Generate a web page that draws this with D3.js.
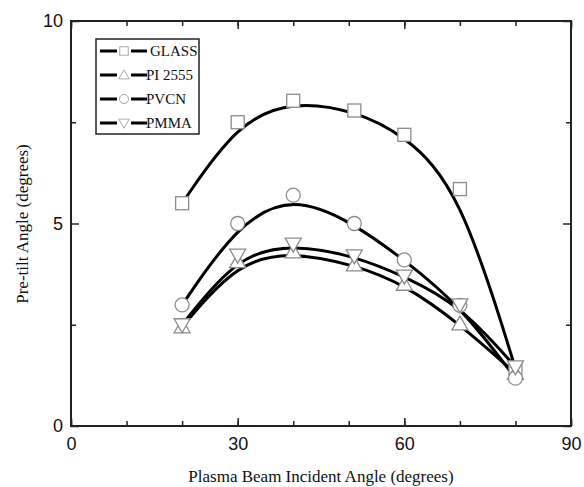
<!DOCTYPE html>
<html>
<head>
<meta charset="utf-8">
<script src="https://cdn.jsdelivr.net/npm/d3@7"></script>
<style>
  body { margin: 0; background: #fff; }
</style>
</head>
<body>
<svg id="chart" width="584" height="487"></svg>
<script>
// incident angles and pre-tilt angles
const angles = [20, 30, 40, 51, 60, 70, 80]
const glass = [5.5, 7.5, 8.03, 7.79, 7.19, 5.85, 1.42]
const pi2555 = [2.45, 4.06, 4.3, 3.98, 3.5, 2.52, 1.3]
const pvcn = [2.99, 5.0, 5.7, 5.0, 4.1, 2.98, 1.18]
const pmma = [2.5, 4.22, 4.49, 4.2, 3.7, 2.99, 1.46]

const xTicks = [0, 30, 60, 90]
const yTicks = [0, 5, 10]

const series = [
    { name: 'GLASS', vals: glass, sym: 'square' },
    { name: 'PI 2555', vals: pi2555, sym: 'up' },
    { name: 'PVCN', vals: pvcn, sym: 'circle' },
    { name: 'PMMA', vals: pmma, sym: 'down' }
]

const svg = d3.select('#chart')
const plotLeft = 71, plotRight = 571, plotTop = 21, plotBottom = 426

const x = d3.scaleLinear().domain([0, 90]).range([plotLeft, plotRight])
const y = d3.scaleLinear().domain([0, 10]).range([plotBottom, plotTop])

const markColor = '#8c8c8c'

function drawMarker(g, sym, cx, cy, s) {
    if (sym === 'square') {
        g.append('rect').attr('x', cx - 6.5 * s).attr('y', cy - 6.5 * s).attr('width', 13 * s).attr('height', 13 * s)
    } else if (sym === 'circle') {
        g.append('circle').attr('cx', cx).attr('cy', cy).attr('r', 7 * s)
    } else if (sym === 'up') {
        g.append('path').attr('d', `M${cx},${cy - 8 * s}L${cx + 8 * s},${cy + 6 * s}L${cx - 8 * s},${cy + 6 * s}Z`)
    } else {
        g.append('path').attr('d', `M${cx},${cy + 8 * s}L${cx + 8 * s},${cy - 6 * s}L${cx - 8 * s},${cy - 6 * s}Z`)
    }
}

// B-spline through the points as control points (Origin style)
const line = d3.line()
    .x((d, i) => x(angles[i]))
    .y(d => y(d))
    .curve(d3.curveBasis)

series.forEach(s => {
    svg.append('path')
        .datum(s.vals)
        .attr('d', line)
        .attr('fill', 'none')
        .attr('stroke', '#000')
        .attr('stroke-width', 3)
})

series.forEach(s => {
    const g = svg.append('g')
    s.vals.forEach((v, i) => drawMarker(g, s.sym, x(angles[i]), y(v), 1))
    g.selectAll('*').attr('fill', 'white').attr('stroke', markColor).attr('stroke-width', 1.3)
})

// axes with inward ticks, mirrored on top/right
const minorX = d3.range(0, 91, 10)
const minorY = [2.5, 7.5]

svg.append('g').attr('transform', `translate(0,${plotBottom})`)
    .call(d3.axisBottom(x).tickValues(minorX).tickSize(-5).tickFormat(''))
svg.append('g').attr('transform', `translate(0,${plotBottom})`)
    .call(d3.axisBottom(x).tickValues(xTicks).tickSize(-8).tickPadding(11).tickFormat(d3.format('d')))
svg.append('g').attr('transform', `translate(0,${plotTop})`)
    .call(d3.axisTop(x).tickValues(minorX).tickSize(-5).tickFormat(''))
svg.append('g').attr('transform', `translate(0,${plotTop})`)
    .call(d3.axisTop(x).tickValues(xTicks).tickSize(-8).tickFormat(''))

svg.append('g').attr('transform', `translate(${plotLeft},0)`)
    .call(d3.axisLeft(y).tickValues(minorY).tickSize(-5).tickFormat(''))
svg.append('g').attr('transform', `translate(${plotLeft},0)`)
    .call(d3.axisLeft(y).tickValues(yTicks).tickSize(-8).tickPadding(8).tickFormat(d3.format('d')))
svg.append('g').attr('transform', `translate(${plotRight},0)`)
    .call(d3.axisRight(y).tickValues(minorY).tickSize(-5).tickFormat(''))
svg.append('g').attr('transform', `translate(${plotRight},0)`)
    .call(d3.axisRight(y).tickValues(yTicks).tickSize(-8).tickFormat(''))

svg.selectAll('.domain').remove()
svg.selectAll('.tick line').attr('stroke', '#222').attr('stroke-width', 1.5)
svg.selectAll('.tick text')
    .attr('fill', '#111')
    .style('font-family', '"Liberation Sans", Arial, sans-serif')
    .style('font-size', '18px')

svg.append('rect')
    .attr('x', plotLeft).attr('y', plotTop)
    .attr('width', plotRight - plotLeft).attr('height', plotBottom - plotTop)
    .attr('fill', 'none').attr('stroke', '#222').attr('stroke-width', 2)

// axis titles
svg.append('text')
    .attr('x', 321).attr('y', 482)
    .attr('text-anchor', 'middle')
    .style('font-family', '"Liberation Serif", "Times New Roman", serif')
    .style('font-size', '17px')
    .attr('fill', '#111')
    .text('Plasma Beam Incident Angle (degrees)')

svg.append('text')
    .attr('transform', 'translate(28,224) rotate(-90)')
    .attr('text-anchor', 'middle')
    .style('font-family', '"Liberation Serif", "Times New Roman", serif')
    .style('font-size', '17px')
    .attr('fill', '#111')
    .text('Pre-tilt Angle (degrees)')

// legend
svg.append('rect')
    .attr('x', 96).attr('y', 39).attr('width', 103).attr('height', 95)
    .attr('fill', 'white').attr('stroke', '#222').attr('stroke-width', 1.5)

const legendY = [51, 75, 99, 123]
series.forEach((s, i) => {
    const ly = legendY[i]
    const g = svg.append('g')
    g.append('line').attr('x1', 100).attr('x2', 117).attr('y1', ly).attr('y2', ly)
        .attr('stroke', '#000').attr('stroke-width', 3)
    g.append('line').attr('x1', 131).attr('x2', 147).attr('y1', ly).attr('y2', ly)
        .attr('stroke', '#000').attr('stroke-width', 3)
    const m = g.append('g')
    drawMarker(m, s.sym, 124, ly, 0.65)
    m.selectAll('*').attr('fill', 'white').attr('stroke', '#aaa').attr('stroke-width', 1)
    g.append('text')
        .attr('x', i === 0 ? 150 : 146).attr('y', ly + 5)
        .style('font-family', '"Liberation Serif", "Times New Roman", serif')
        .style('font-size', '15px')
        .attr('fill', '#111')
        .text(s.name)
})
</script>
</body>
</html>
